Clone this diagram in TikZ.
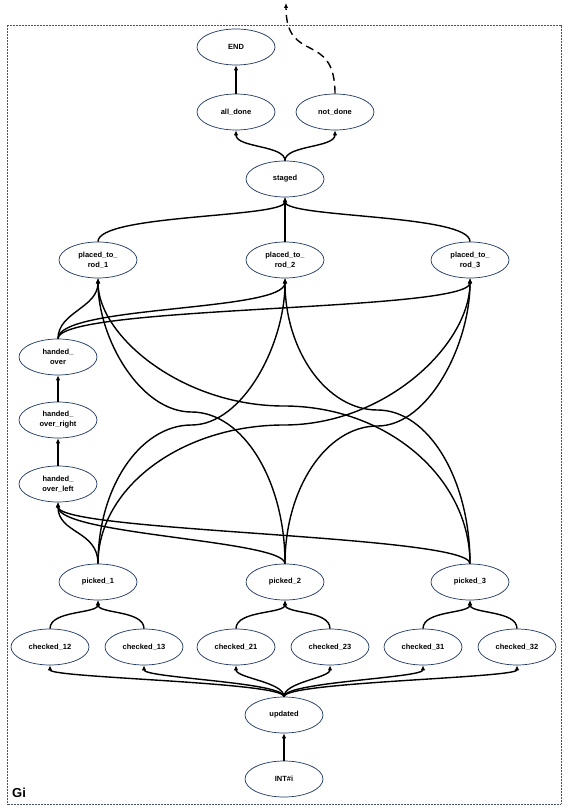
\documentclass[tikz,border=0pt]{standalone}
\usepackage{fontspec}
\setmainfont{Liberation Sans}
\usetikzlibrary{arrows.meta,shapes.geometric}
\definecolor{nodeedge}{HTML}{1F3864}
\definecolor{framec}{HTML}{44546A}
\begin{document}
\begin{tikzpicture}[x=1pt,y=-1pt,
  st/.style={ellipse, draw=nodeedge, line width=0.7pt, fill=white,
    minimum width=78pt, minimum height=36pt, inner sep=0pt, align=center,
    font=\bfseries\fontsize{7.5}{10}\selectfont},
  ar/.style={line width=1.4pt, -{Latex[length=5pt,width=4.5pt]}},
  dashar/.style={ar, dash pattern=on 8pt off 5pt}
]
\useasboundingbox (0,0) rectangle (567,810);
\draw[framec, line width=0.6pt, dash pattern=on 0.6pt off 0.9pt] (7,25) rectangle (561,804);

% nodes
\node[st] (endn) at (236,47) {END};
\node[st] (alldone) at (236,112) {all\_done};
\node[st] (notdone) at (335,112) {not\_done};
\node[st] (staged) at (285,179) {staged};
\node[st] (p1) at (98,260) {placed\_to\_\\rod\_1};
\node[st] (p2) at (285,260) {placed\_to\_\\rod\_2};
\node[st] (p3) at (470,260) {placed\_to\_\\rod\_3};
\node[st] (hov) at (58,357) {handed\_\\over};
\node[st] (hor) at (58,420) {handed\_\\over\_right};
\node[st] (hol) at (58,484) {handed\_\\over\_left};
\node[st] (k1) at (98,582) {picked\_1};
\node[st] (k2) at (285,582) {picked\_2};
\node[st] (k3) at (470,582) {picked\_3};
\node[st] (c12) at (50,647) {checked\_12};
\node[st] (c13) at (144,647) {checked\_13};
\node[st] (c21) at (236,647) {checked\_21};
\node[st] (c23) at (330,647) {checked\_23};
\node[st] (c31) at (423,647) {checked\_31};
\node[st] (c32) at (517,647) {checked\_32};
\node[st] (upd) at (284,715) {updated};
\node[st] (int) at (284,779) {INT\#i};
\node[font=\bfseries\fontsize{13}{15}\selectfont, anchor=base west, inner sep=0pt] (gi) at (12,797) {Gi};
\coordinate (outc) at (286,3);

% bottom
\draw[ar] (int.north) -- (upd.south);
\draw[ar] (upd.north) .. controls (284,682) and (50,678) .. (c12.south);
\draw[ar] (upd.north) .. controls (284,682) and (144,678) .. (c13.south);
\draw[ar] (upd.north) .. controls (284,682) and (236,678) .. (c21.south);
\draw[ar] (upd.north) .. controls (284,682) and (330,678) .. (c23.south);
\draw[ar] (upd.north) .. controls (284,682) and (423,678) .. (c31.south);
\draw[ar] (upd.north) .. controls (284,682) and (517,678) .. (c32.south);

\draw[ar] (c12.north) .. controls (50,610) and (98,614) .. (k1.south);
\draw[ar] (c13.north) .. controls (144,610) and (98,614) .. (k1.south);
\draw[ar] (c21.north) .. controls (236,610) and (285,614) .. (k2.south);
\draw[ar] (c23.north) .. controls (330,610) and (285,614) .. (k2.south);
\draw[ar] (c31.north) .. controls (423,610) and (470,614) .. (k3.south);
\draw[ar] (c32.north) .. controls (517,610) and (470,614) .. (k3.south);

% picked -> handed_over_left
\draw[ar] (k1.north) .. controls (98,530) and (58,534) .. (hol.south);
\draw[ar] (k2.north) .. controls (285,540) and (58,535) .. (hol.south);
\draw[ar] (k3.north) .. controls (470,535) and (58,532) .. (hol.south);

% handed chain
\draw[ar] (hol.north) -- (hor.south);
\draw[ar] (hor.north) -- (hov.south);

% picked -> placed (two quarter arcs through a midpoint)
\draw[ar] (k1.north) .. controls (98,487.5) and (140.1,425) .. (191.5,425)
  .. controls (242.9,425) and (285,344.2) .. (p2.south);
\draw[ar] (k1.north) .. controls (98,487.5) and (181.7,425) .. (284,425)
  .. controls (386.3,425) and (470,344.2) .. (p3.south);
\draw[ar] (k2.north) .. controls (285,480.4) and (242.9,412) .. (191.5,412)
  .. controls (140.1,412) and (98,338.3) .. (p1.south);
\draw[ar] (k2.north) .. controls (285,488.1) and (326.6,426) .. (377.5,426)
  .. controls (428.4,426) and (470,344.6) .. (p3.south);
\draw[ar] (k3.north) .. controls (470,477.1) and (386.3,406) .. (284,406)
  .. controls (181.7,406) and (98,335.6) .. (p1.south);
\draw[ar] (k3.north) .. controls (470,479.3) and (428.4,410) .. (377.5,410)
  .. controls (326.6,410) and (285,350.6) .. (p2.south);

% handed_over -> placed
\draw[ar] (hov.north) .. controls (58,312) and (98,308) .. (p1.south);
\draw[ar] (hov.north) .. controls (58,305) and (285,312) .. (p2.south);
\draw[ar] (hov.north) .. controls (58,305) and (470,312) .. (p3.south);

% placed -> staged
\draw[ar] (p1.north) .. controls (98,214) and (285,218) .. (staged.south);
\draw[ar] (p2.north) -- (staged.south);
\draw[ar] (p3.north) .. controls (470,214) and (285,218) .. (staged.south);

% top
\draw[ar] (staged.north) .. controls (285,145) and (236,148) .. (alldone.south);
\draw[ar] (staged.north) .. controls (285,145) and (335,148) .. (notdone.south);
\draw[ar] (alldone.north) -- (endn.south);
\draw[dashar] (notdone.north) .. controls (335,30) and (286,65) .. (outc);
\end{tikzpicture}
\end{document}
